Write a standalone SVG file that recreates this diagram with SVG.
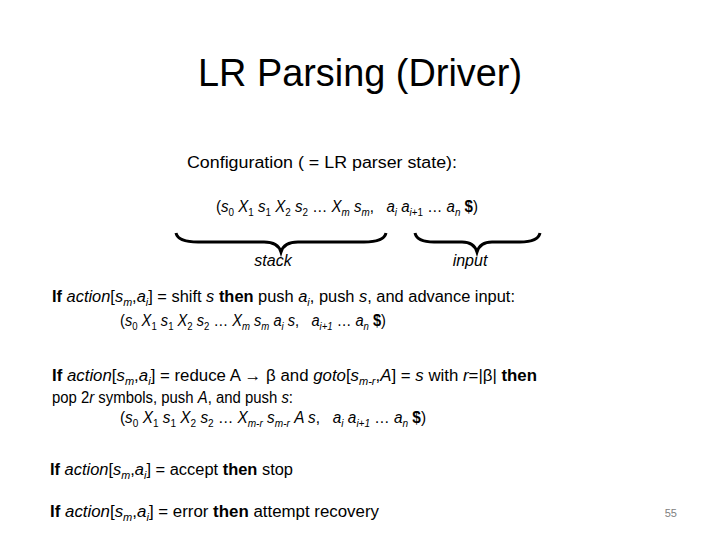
<svg xmlns="http://www.w3.org/2000/svg" width="720" height="540" viewBox="0 0 720 540" xml:space="preserve">
<style>
text{font-family:"Liberation Sans","DejaVu Sans",sans-serif;fill:#000;white-space:pre}
.b{font-size:16px}
.i{font-style:italic}
.bd{font-weight:bold}
.s{font-size:10.5px}
.br{fill:none;stroke:#000;stroke-width:3}
</style>
<rect width="720" height="540" fill="#fff"/>
<g id="title"><text x="360" y="86" text-anchor="middle" font-size="38" textLength="324" lengthAdjust="spacingAndGlyphs">LR Parsing (Driver)</text></g>
<g id="config">
<text class="b" x="187" y="168" textLength="270" lengthAdjust="spacingAndGlyphs">Configuration ( = LR parser state):</text>
<text class="b" x="216" y="212" textLength="262" lengthAdjust="spacingAndGlyphs">(<tspan class="i">s</tspan><tspan class="s" dy="4">0</tspan><tspan dy="-4"> </tspan><tspan class="i">X</tspan><tspan class="s" dy="4">1</tspan><tspan dy="-4"> </tspan><tspan class="i">s</tspan><tspan class="s" dy="4">1</tspan><tspan dy="-4"> </tspan><tspan class="i">X</tspan><tspan class="s" dy="4">2</tspan><tspan dy="-4"> </tspan><tspan class="i">s</tspan><tspan class="s" dy="4">2</tspan><tspan dy="-4"> … </tspan><tspan class="i">X</tspan><tspan class="s i" dy="4">m</tspan><tspan dy="-4"> </tspan><tspan class="i">s</tspan><tspan class="s i" dy="4">m</tspan><tspan dy="-4">,   </tspan><tspan class="i">a</tspan><tspan class="s i" dy="4">i</tspan><tspan dy="-4"> </tspan><tspan class="i">a</tspan><tspan class="s i" dy="4">i</tspan><tspan class="s" dy="0">+1</tspan><tspan dy="-4"> … </tspan><tspan class="i">a</tspan><tspan class="s i" dy="4">n</tspan><tspan class="bd" dy="-4"> $</tspan>)</text>
</g>
<g id="braces">
<path class="br" d="M176,233 Q178,242 198,242 L264,242 Q278,242 281,252 Q284,242 298,242 L364,242 Q384,242 386,233"/>
<path class="br" d="M415,233 Q417,242 434,242 L462,242 Q474,242 477,252 Q480,242 492,242 L520,242 Q538,242 540,233"/>
<text class="b i" x="273" y="266" text-anchor="middle">stack</text>
<text class="b i" x="470" y="266" text-anchor="middle">input</text>
</g>
<g id="shift">
<text class="b" x="52" y="302" textLength="463" lengthAdjust="spacingAndGlyphs"><tspan class="bd">If</tspan> <tspan class="i">action</tspan>[<tspan class="i">s</tspan><tspan class="s i" dy="4">m</tspan><tspan dy="-4">,</tspan><tspan class="i">a</tspan><tspan class="s i" dy="4">i</tspan><tspan dy="-4">] = shift </tspan><tspan class="i">s</tspan> <tspan class="bd">then</tspan> push <tspan class="i">a</tspan><tspan class="s i" dy="4">i</tspan><tspan dy="-4">, push </tspan><tspan class="i">s</tspan>, and advance input:</text>
<text class="b" x="120" y="326" textLength="266" lengthAdjust="spacingAndGlyphs">(<tspan class="i">s</tspan><tspan class="s" dy="4">0</tspan><tspan dy="-4"> </tspan><tspan class="i">X</tspan><tspan class="s" dy="4">1</tspan><tspan dy="-4"> </tspan><tspan class="i">s</tspan><tspan class="s" dy="4">1</tspan><tspan dy="-4"> </tspan><tspan class="i">X</tspan><tspan class="s" dy="4">2</tspan><tspan dy="-4"> </tspan><tspan class="i">s</tspan><tspan class="s" dy="4">2</tspan><tspan dy="-4"> … </tspan><tspan class="i">X</tspan><tspan class="s i" dy="4">m</tspan><tspan dy="-4"> </tspan><tspan class="i">s</tspan><tspan class="s i" dy="4">m</tspan><tspan dy="-4"> </tspan><tspan class="i">a</tspan><tspan class="s i" dy="4">i</tspan><tspan dy="-4"> </tspan><tspan class="i">s</tspan>,   <tspan class="i">a</tspan><tspan class="s i" dy="4">i+1</tspan><tspan dy="-4"> … </tspan><tspan class="i">a</tspan><tspan class="s i" dy="4">n</tspan><tspan class="bd" dy="-4"> $</tspan>)</text>
</g>
<g id="reduce">
<text class="b" x="52" y="381" textLength="485" lengthAdjust="spacingAndGlyphs"><tspan class="bd">If</tspan> <tspan class="i">action</tspan>[<tspan class="i">s</tspan><tspan class="s i" dy="4">m</tspan><tspan dy="-4">,</tspan><tspan class="i">a</tspan><tspan class="s i" dy="4">i</tspan><tspan dy="-4">] = reduce A → β and </tspan><tspan class="i">goto</tspan>[<tspan class="i">s</tspan><tspan class="s i" dy="4">m-r</tspan><tspan dy="-4">,</tspan><tspan class="i">A</tspan>] = <tspan class="i">s</tspan> with <tspan class="i">r</tspan>=|β| <tspan class="bd">then</tspan></text>
<text class="b" x="52" y="403" textLength="241" lengthAdjust="spacingAndGlyphs">pop 2<tspan class="i">r</tspan> symbols, push <tspan class="i">A</tspan>, and push <tspan class="i">s</tspan>:</text>
<text class="b" x="120" y="423" textLength="306" lengthAdjust="spacingAndGlyphs">(<tspan class="i">s</tspan><tspan class="s" dy="4">0</tspan><tspan dy="-4"> </tspan><tspan class="i">X</tspan><tspan class="s" dy="4">1</tspan><tspan dy="-4"> </tspan><tspan class="i">s</tspan><tspan class="s" dy="4">1</tspan><tspan dy="-4"> </tspan><tspan class="i">X</tspan><tspan class="s" dy="4">2</tspan><tspan dy="-4"> </tspan><tspan class="i">s</tspan><tspan class="s" dy="4">2</tspan><tspan dy="-4"> … </tspan><tspan class="i">X</tspan><tspan class="s i" dy="4">m-r</tspan><tspan dy="-4"> </tspan><tspan class="i">s</tspan><tspan class="s i" dy="4">m-r</tspan><tspan dy="-4"> </tspan><tspan class="i">A s</tspan>,   <tspan class="i">a</tspan><tspan class="s i" dy="4">i</tspan><tspan dy="-4"> </tspan><tspan class="i">a</tspan><tspan class="s i" dy="4">i+1</tspan><tspan dy="-4"> … </tspan><tspan class="i">a</tspan><tspan class="s i" dy="4">n</tspan><tspan class="bd" dy="-4"> $</tspan>)</text>
</g>
<g id="accept"><text class="b" x="50" y="475" textLength="243" lengthAdjust="spacingAndGlyphs"><tspan class="bd">If</tspan> <tspan class="i">action</tspan>[<tspan class="i">s</tspan><tspan class="s i" dy="4">m</tspan><tspan dy="-4">,</tspan><tspan class="i">a</tspan><tspan class="s i" dy="4">i</tspan><tspan dy="-4">] = accept </tspan><tspan class="bd">then</tspan> stop</text></g>
<g id="error"><text class="b" x="50" y="517" textLength="329" lengthAdjust="spacingAndGlyphs"><tspan class="bd">If</tspan> <tspan class="i">action</tspan>[<tspan class="i">s</tspan><tspan class="s i" dy="4">m</tspan><tspan dy="-4">,</tspan><tspan class="i">a</tspan><tspan class="s i" dy="4">i</tspan><tspan dy="-4">] = error </tspan><tspan class="bd">then</tspan> attempt recovery</text></g>
<g id="page"><text x="677" y="517" text-anchor="end" font-size="11" style="fill:#808080">55</text></g>
</svg>
